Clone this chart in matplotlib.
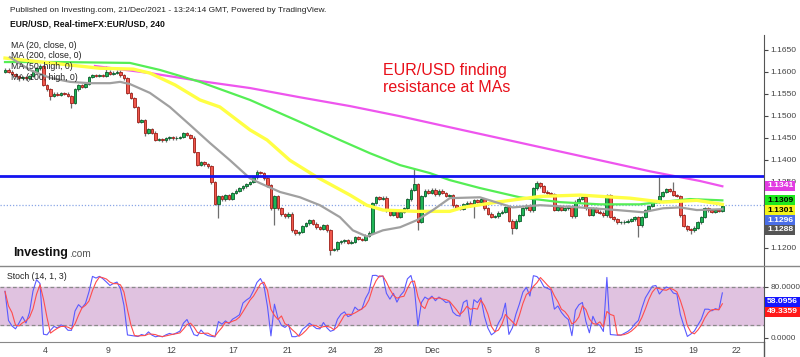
import matplotlib
matplotlib.use("Agg")
import matplotlib.pyplot as plt
from matplotlib.lines import Line2D
import numpy as np
import pandas as pd

plt.rcParams['font.family'] = ['Liberation Sans', 'DejaVu Sans']

# EUR/USD 4h closes (bar index 0..205)
closes = [
    1.1605, 1.1600, 1.1595, 1.1590, 1.1585, 1.1588, 1.1585, 1.1590, 1.1600, 1.1608,
    1.1612, 1.1570, 1.1560, 1.1545, 1.1550, 1.1548, 1.1552, 1.1550, 1.1545, 1.1530,
    1.1560, 1.1570, 1.1565, 1.1572, 1.1588, 1.1592, 1.1590, 1.1593, 1.1590, 1.1600,
    1.1595, 1.1598, 1.1600, 1.1592, 1.1585, 1.1552, 1.1540, 1.1520, 1.1486, 1.1490,
    1.1461, 1.1470, 1.1462, 1.1445, 1.1447, 1.1444, 1.1449, 1.1452, 1.1449, 1.1450,
    1.1452, 1.1460, 1.1456, 1.1450, 1.1418, 1.1388, 1.1395, 1.1390, 1.1385, 1.1349,
    1.1300, 1.1318, 1.1310, 1.1320, 1.1312, 1.1325, 1.1330, 1.1335, 1.1340, 1.1345,
    1.1350, 1.1360, 1.1372, 1.1370, 1.1358, 1.1342, 1.1290, 1.1318, 1.1290, 1.1276,
    1.1272, 1.1278, 1.1240, 1.1233, 1.1236, 1.1250, 1.1256, 1.1263, 1.1255, 1.1247,
    1.1243, 1.1252, 1.1240, 1.1195, 1.1197, 1.1213, 1.1215, 1.1218, 1.1212, 1.1214,
    1.1224, 1.1220, 1.1218, 1.1228, 1.1235, 1.1302, 1.1315, 1.1312, 1.1314, 1.1285,
    1.1275, 1.1285, 1.1270, 1.1282, 1.1290, 1.1310, 1.1332, 1.1345, 1.1260, 1.1318,
    1.1330, 1.1325, 1.1332, 1.1322, 1.1330, 1.1325, 1.1318, 1.1320, 1.1297, 1.1290,
    1.1288, 1.1300, 1.1303, 1.1295, 1.1308, 1.1305, 1.1310, 1.1290, 1.1278, 1.1270,
    1.1272, 1.1280, 1.1282, 1.1292, 1.1262, 1.1245, 1.1262, 1.1275, 1.1290, 1.1296,
    1.1285, 1.1335, 1.1347, 1.1340, 1.1328, 1.1325, 1.1322, 1.1286, 1.1292, 1.1286,
    1.1290, 1.1295, 1.1272, 1.1305, 1.1312, 1.1315, 1.1290, 1.1275, 1.1290, 1.1282,
    1.1280, 1.1274, 1.1320, 1.1270, 1.1265, 1.1258, 1.1258, 1.1260, 1.1262, 1.1265,
    1.1270, 1.1251, 1.1270, 1.1286, 1.1295, 1.1304, 1.1305, 1.1318, 1.1327, 1.1333,
    1.1330, 1.1320, 1.1318, 1.1274, 1.1250, 1.1242, 1.1240, 1.1246, 1.1258, 1.1270,
    1.1290, 1.1285, 1.1282, 1.1286, 1.1284, 1.1296,
]
first_open = 1.1600
# wicks that stick out noticeably (bar index -> price)
high_marks = {10: 1.1618, 29: 1.1612, 55: 1.1400, 72: 1.1378, 117: 1.1381,
              152: 1.1352, 187: 1.1361, 191: 1.1350}
low_marks = {4: 1.1578, 13: 1.1535, 19: 1.1518, 40: 1.1455, 61: 1.1268,
             77: 1.1251, 93: 1.1185, 118: 1.1240, 134: 1.1268, 145: 1.1232,
             181: 1.1224, 196: 1.1232}
wick_pad = 0.0003

# moving averages (bar index, price)
ma20_i = [1.4, 7.1, 12.9, 18.6, 24.3, 30, 32.9, 35.7, 41.4, 47.1, 52.9, 58.6, 64.3, 70,
          72.9, 78.6, 84.3, 90, 95.7, 99.4, 103.4, 108, 112.9, 117.7, 122.3, 127.1,
          135.7, 145.1, 152.9, 164.3, 174.9, 182.3, 188, 192.9, 197.7, 205]
ma20_p = [1.1633, 1.1604, 1.1586, 1.1577, 1.1574, 1.1574, 1.1577, 1.1572, 1.1552, 1.1520,
          1.1479, 1.1438, 1.1399, 1.1358, 1.1347, 1.1327, 1.1315, 1.1297, 1.1270, 1.1240,
          1.1226, 1.1240, 1.1247, 1.1263, 1.1286, 1.1313, 1.1315, 1.1292, 1.1297, 1.1292,
          1.1286, 1.1281, 1.1290, 1.1292, 1.1286, 1.1288]
ma200_i = [0, 15.7, 35.7, 44.3, 55.7, 70, 84.3, 95.7, 104.3, 112.9, 121.4, 127.1, 135.7,
           147.1, 158.6, 170, 181.4, 187.1, 195.7, 205]
ma200_p = [1.1622, 1.1622, 1.1620, 1.1604, 1.1577, 1.1536, 1.1486, 1.1445, 1.1415, 1.1388,
           1.1370, 1.1354, 1.1336, 1.1315, 1.1304, 1.1299, 1.1299, 1.1304, 1.1311, 1.1308]
ma50h_i = [0, 27, 36.6, 41.4, 48.6, 55.7, 61.4, 70, 74.9, 81.4, 89.1, 98.6, 103.4, 108,
           117.7, 127.1, 130.9, 140.6, 152.9, 164.3, 178.6, 188, 197.7, 205]
ma50h_p = [1.1631, 1.1608, 1.1606, 1.1597, 1.1570, 1.1536, 1.1520, 1.1468, 1.1445, 1.1399,
           1.1361, 1.1320, 1.1297, 1.1286, 1.1283, 1.1283, 1.1292, 1.1304, 1.1317, 1.1320,
           1.1313, 1.1304, 1.1308, 1.1299]
ma100h_i = [25.7, 41.4, 55.7, 70, 84.3, 98.6, 112.9, 127.1, 141.4, 155.7, 170, 184.3,
            198.6, 205]
ma100h_p = [1.1613, 1.1597, 1.1579, 1.1563, 1.1542, 1.1522, 1.1499, 1.1474, 1.1449,
            1.1424, 1.1399, 1.1374, 1.1352, 1.1340]

resistance = 1.1363
last_price = 1.1297

# 1.1250 and 1.1300 sit behind the value tags in the original
price_ticks = [1.1200, 1.1350, 1.1400, 1.1450, 1.1500, 1.1550, 1.1600, 1.1650]
value_tags = ['1.1341', '1.1309', '1.1301', '1.1296', '1.1288']
value_tag_y = [1.1341, 1.1308, 1.1286, 1.1263, 1.1241]
value_tag_bg = ['#e23ce2', '#1ee81e', '#f4f41a', '#4a6ee6', '#555555']
value_tag_fg = ['white', 'black', 'black', 'white', 'white']

date_labels = ['4', '9', '12', '17', '21', '24', '28', 'Dec', '5', '8', '12', '15', '19', '22']
date_pos = [11.4, 29.4, 47.4, 65.1, 80.6, 93.7, 106.6, 122.0, 138.3, 152.0, 167.4,
            180.9, 196.6, 209.1]

# candles
c = np.array(closes)
o = np.array([first_open] + closes[:-1])
x = np.arange(len(c))
hi = np.maximum(o, c) + wick_pad
lo = np.minimum(o, c) - wick_pad
for k, v in high_marks.items():
    hi[k] = v
for k, v in low_marks.items():
    lo[k] = v

# Stoch (14, 1, 3)
df = pd.DataFrame({'h': hi, 'l': lo, 'c': c})
ll = df['l'].rolling(14, min_periods=1).min()
hh = df['h'].rolling(14, min_periods=1).max()
k_line = 100 * (df['c'] - ll) / (hh - ll)
d_line = k_line.rolling(3, min_periods=1).mean()

W, H = 800, 357
fig = plt.figure(figsize=(8, 3.57), dpi=100)
ax = fig.add_axes([0, 1 - 266 / H, 764 / W, (266 - 35) / H])
ax2 = fig.add_axes([0, 1 - 342 / H, 764 / W, (342 - 266) / H], sharex=ax)

up = c >= o
body_col = np.where(up, '#1fb556', '#f0574c')
edge_col = np.where(up, '#0b5e2b', '#9e1f18')
ax.vlines(x, lo, hi, color='#6e6e6e', lw=0.9, zorder=2)
height = np.where(np.abs(c - o) < 0.00006, 0.00006, c - o)
ax.bar(x, height, bottom=o, width=0.8, color=body_col, edgecolor=edge_col,
       linewidth=0.6, zorder=3)

ax.plot(ma100h_i, ma100h_p, color='#ee55ee', lw=1.6, zorder=4)
ax.plot(ma200_i, ma200_p, color='#55ee55', lw=1.6, zorder=4)
ax.plot(ma50h_i, ma50h_p, color='#ffff44', lw=2.4, zorder=4)
ax.plot(ma20_i, ma20_p, color='#a0a0a0', lw=1.6, zorder=4)
ax.axhline(resistance, color='#1414f0', lw=2, zorder=5)
ax.axhline(last_price, color='#8aa6e6', lw=0.9, ls=(0, (1, 1.5)), zorder=1)

ax.set_xlim(-1.43, 216.9)
ax.set_ylim(1.11590, 1.16834)
ax.yaxis.tick_right()
ax.set_yticks(price_ticks)
ax.set_yticklabels(['%.4f' % t for t in price_ticks])
ax.tick_params(axis='y', labelsize=6.1, colors='#444444', length=3, pad=1.5)
ax.tick_params(axis='x', bottom=False, labelbottom=False)
for s in ['top', 'left', 'bottom']:
    ax.spines[s].set_visible(False)
ax.spines['right'].set_color('#555555')

for lab, yv, bg, fg in zip(value_tags, value_tag_y, value_tag_bg, value_tag_fg):
    ax.text(1.004, yv, lab, transform=ax.get_yaxis_transform(), fontsize=6.1,
            fontweight='bold', color=fg, va='center', ha='left', zorder=10,
            clip_on=False,
            bbox=dict(boxstyle='square,pad=0.2', fc=bg, ec='none'))

# stochastic panel
ax2.axhspan(20, 80, color='#e0c2e0', zorder=0)
ax2.axhline(80, color='#8a8a8a', lw=0.9, ls=(0, (3, 2)), zorder=1)
ax2.axhline(20, color='#8a8a8a', lw=0.9, ls=(0, (3, 2)), zorder=1)
ax2.plot(x, k_line, color='#5a5aff', lw=0.8, zorder=3)
ax2.plot(x, d_line, color='#ff4d4d', lw=0.8, zorder=3)
ax2.set_ylim(-6.24, 112.3)
ax2.yaxis.tick_right()
ax2.set_yticks([0, 80])
ax2.set_yticklabels(['0.0000', '80.0000'])
ax2.tick_params(axis='y', labelsize=5.9, colors='#444444', length=3, pad=1.5)
ax2.set_xticks(date_pos)
ax2.set_xticklabels(date_labels)
ax2.tick_params(axis='x', labelsize=6.3, colors='#444444', length=0, pad=3)
for s in ['top', 'left']:
    ax2.spines[s].set_visible(False)
ax2.spines['right'].set_color('#555555')
ax2.spines['bottom'].set_color('#888888')
ax2.text(1.004, 56.6, '58.0956', transform=ax2.get_yaxis_transform(), fontsize=6.1,
         fontweight='bold', color='white', va='center', ha='left', clip_on=False,
         bbox=dict(boxstyle='square,pad=0.2', fc='#1515ff', ec='none'))
ax2.text(1.004, 41.0, '49.3359', transform=ax2.get_yaxis_transform(), fontsize=6.1,
         fontweight='bold', color='white', va='center', ha='left', clip_on=False,
         bbox=dict(boxstyle='square,pad=0.2', fc='#ff1a1a', ec='none'))
ax2.text(0.009, 0.86, 'Stoch (14, 1, 3)', transform=ax2.transAxes, fontsize=6.3,
         color='#222222', va='center')

# frame lines
fig.add_artist(Line2D([0, 1], [1 - 266 / H] * 2, color='#888888', lw=1))
fig.add_artist(Line2D([764 / W] * 2, [0, 1 - 342 / H], color='#555555', lw=1))

# header and legend
fig.text(10 / W, 1 - 10 / H, 'Published on Investing.com, 21/Dec/2021 - 13:24:14 GMT, Powered by TradingView.',
         fontsize=6.05, color='#222222', va='center')
fig.text(10 / W, 1 - 24 / H, 'EUR/USD, Real-timeFX:EUR/USD, 240', fontsize=6.2,
         fontweight='bold', color='#111111', va='center')
for j, t in enumerate(['MA (20, close, 0)', 'MA (200, close, 0)', 'MA (50, high, 0)',
                       'MA (100, high, 0)']):
    fig.text(11 / W, 1 - (45 + 10.8 * j) / H, t, fontsize=6.3, color='#222222',
             va='center', zorder=20)

fig.text(383 / W, 1 - 71 / H, 'EUR/USD finding', fontsize=11.5, color='#e8101a',
         va='center')
fig.text(383 / W, 1 - 87 / H, 'resistance at MAs', fontsize=11.5, color='#e8101a',
         va='center')

fig.text(13 / W, 1 - 253 / H, 'Investing', fontsize=9.0, fontweight='bold',
         color='#111111', va='center')
fig.text(69.5 / W, 1 - 254 / H, '.com', fontsize=7.3, color='#555555', va='center')

fig.savefig('out.png', dpi=100)
